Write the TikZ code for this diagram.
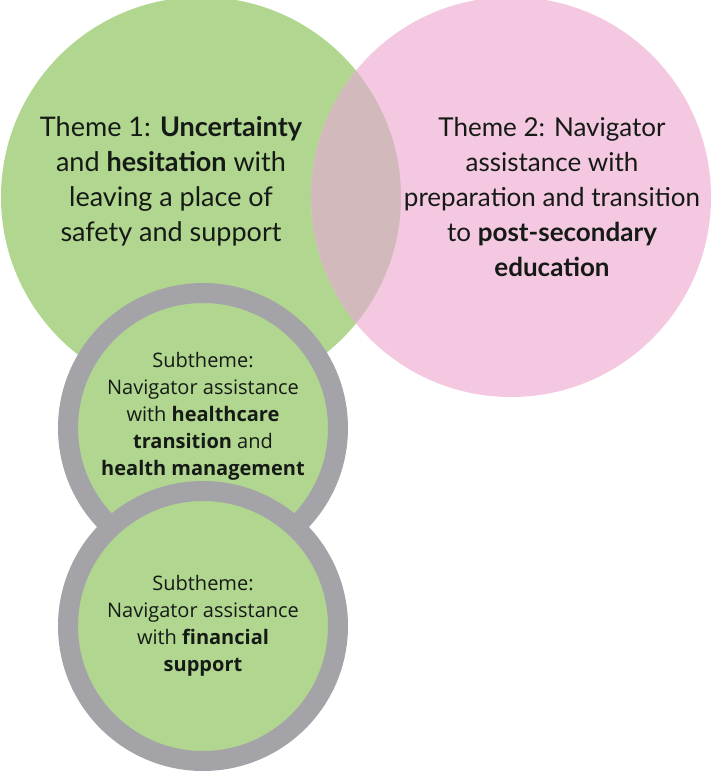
\documentclass[tikz,border=0pt]{standalone}
\usepackage{fontspec}
\setmainfont{Open Sans}
\newfontfamily\themefont{Lato}
\usetikzlibrary{positioning}

\definecolor{themegreen}{RGB}{177,214,143}
\definecolor{themepink}{RGB}{243,200,224}
\definecolor{overlapmauve}{RGB}{210,186,188}
\definecolor{ringgrey}{RGB}{164,163,168}
\definecolor{inktext}{RGB}{22,26,22}

\begin{document}
\begin{tikzpicture}
	[x=1pt, y=-1pt,%
	theme/.style   ={circle,	inner sep=0pt,	minimum size=400pt},%
	subtheme/.style={circle,	draw=ringgrey,	line width=20pt,	fill=themegreen,	inner sep=0pt,	minimum size=270pt},%
	themetext/.style={align=center,	text=inktext,	font=\themefont\fontsize{27}{35}\selectfont},%
	subtext/.style ={align=center,	text=inktext,	font=\fontsize{20}{27}\selectfont},%
	]
	\useasboundingbox (0,0) rectangle (712,774);

	% big circles
	\node (theme1) at (201,197) [theme, fill=themegreen] {};
	\node (theme2) at (511,197) [theme, fill=themepink] {};
	\begin{scope}
		\clip (theme1.center) circle (200pt);
		\fill [overlapmauve] (theme2.center) circle (200pt);
	\end{scope}

	% subtheme circles
	\node (sub1) at (203,428) [subtheme] {};
	\node (sub2) at (203,626) [subtheme] {};

	% texts
	\node (theme1txt) at (171,181) [themetext]
		{Theme 1: \textbf{Uncertainty}\\ and \textbf{hesitation} with\\ leaving a place of\\ safety and support};
	\node (theme2txt) at (552,197) [themetext, font=\themefont\fontsize{26}{35}\selectfont]
		{Theme 2: Navigator\\ assistance with\\ preparation and transition\\ to \textbf{post-secondary}\\ \textbf{education}};
	\node (sub1txt) at (203,416) [subtext]
		{Subtheme:\\ Navigator assistance\\ with \textbf{healthcare}\\ \textbf{transition} and\\ \textbf{health management}};
	\node (sub2txt) at (203,626) [subtext]
		{Subtheme:\\ Navigator assistance\\ with \textbf{financial}\\ \textbf{support}};

\end{tikzpicture}
\end{document}
